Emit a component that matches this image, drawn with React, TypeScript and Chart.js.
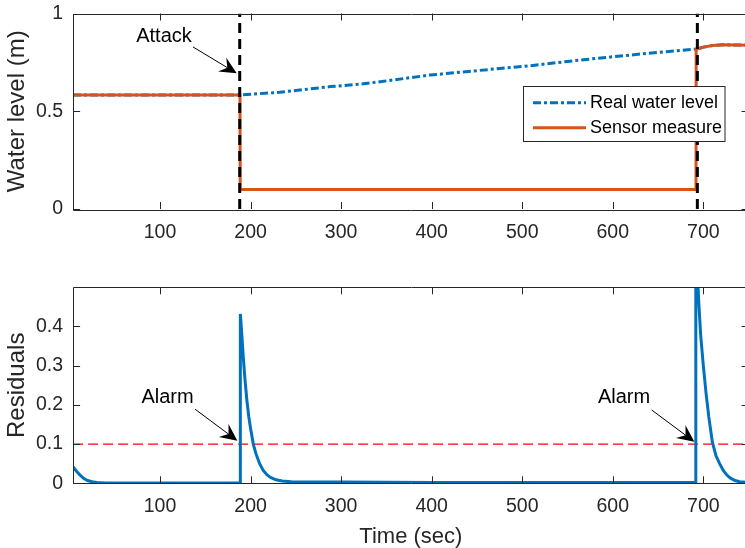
import React, { useEffect, useRef } from "react";
import { Chart, registerables } from "chart.js";
Chart.register(...registerables);

// ---------- data ----------
const xMin = 4;
const xMax = 750;
const xTicks = [100, 200, 300, 400, 500, 600, 700];
const levelTicks = [0, 0.5, 1];
const residualTicks = [0, 0.1, 0.2, 0.3, 0.4];

const realTime = [4, 100, 188, 232, 288, 321, 343, 398, 453, 509, 564, 638, 693, 700, 710, 722, 735, 750];
const realLevel = [0.583, 0.583, 0.583, 0.597, 0.626, 0.639, 0.651, 0.685, 0.709, 0.733, 0.762, 0.796, 0.818, 0.828, 0.836, 0.84, 0.839, 0.838];

const sensorTime = [4, 100, 188.3, 188.6, 300, 500, 691.9, 692.1, 700, 710, 722, 735, 750];
const sensorLevel = [0.583, 0.583, 0.583, 0.1, 0.1, 0.1, 0.1, 0.817, 0.828, 0.836, 0.84, 0.839, 0.838];

const attackTimes = [188, 693.4];

const residualTime = [
  4, 8, 12, 16, 20, 25, 30, 40, 60, 100, 150, 188.5,
  188.7, 190, 192, 194, 196, 198, 200, 203, 206, 210, 214, 218, 222, 228, 235, 245, 260, 300, 400, 500, 600, 691.6,
  691.7, 693, 695, 697, 700, 703, 706, 710, 714, 718, 722, 726, 730, 735, 740, 750,
];
const residualValue = [
  0.042, 0.03, 0.02, 0.012, 0.007, 0.004, 0.002, 0.001, 0.0005, 0.0005, 0.0005, 0.0005,
  0.432, 0.39, 0.32, 0.26, 0.21, 0.17, 0.14, 0.1, 0.075, 0.05, 0.033, 0.022, 0.015, 0.009, 0.006, 0.004, 0.003, 0.003, 0.002, 0.002, 0.002, 0.002,
  0.62, 0.56, 0.46, 0.38, 0.3, 0.23, 0.17, 0.105, 0.07, 0.05, 0.033, 0.021, 0.013, 0.007, 0.004, 0.002,
];
const threshold = 0.1;

// annotations: label position and arrow (data coordinates)
const topNotes = [{ text: "Attack", tx: 104.4, ty: 0.854, x1: 136.4, y1: 0.829, x2: 184.7, y2: 0.694 }];
const bottomNotes = [
  { text: "Alarm", tx: 108.3, ty: 0.2036, x1: 138.7, y1: 0.189, x2: 185.4, y2: 0.1087 },
  { text: "Alarm", tx: 612.4, ty: 0.204, x1: 643, y1: 0.187, x2: 690.1, y2: 0.106 },
];
const legendLabels = ["Real water level", "Sensor measure"];

// ---------- styles ----------
const FONT = "'Liberation Sans', Arial, Helvetica, sans-serif";
const AX = "#262626";
const BLUE = "#0072BD";
const ORANGE = "#D95319";
const pts = (xs: number[], ys: number[]) => xs.map((x, i) => ({ x, y: ys[i] }));

const boxTicks = {
  id: "boxTicks",
  afterDraw(chart: any, _a: any, opts: any) {
    const { ctx, chartArea } = chart;
    const { left, right, top, bottom } = chartArea;
    const xs = chart.scales.x;
    const ys = chart.scales.y;
    const L = 7;
    ctx.save();
    ctx.strokeStyle = AX;
    ctx.lineWidth = 1;
    ctx.setLineDash([]);
    ctx.beginPath();
    ctx.rect(Math.round(left) + 0.5, Math.round(top) + 0.5, Math.round(right - left), Math.round(bottom - top));
    for (const t of xs.ticks) {
      const px = Math.round(xs.getPixelForValue(t.value)) + 0.5;
      ctx.moveTo(px, bottom);
      ctx.lineTo(px, bottom - L);
      ctx.moveTo(px, top);
      ctx.lineTo(px, top + L);
    }
    for (const t of ys.ticks) {
      const py = Math.round(ys.getPixelForValue(t.value)) + 0.5;
      ctx.moveTo(left, py);
      ctx.lineTo(left + L, py);
      ctx.moveTo(right, py);
      ctx.lineTo(right - L, py);
    }
    ctx.stroke();

    // annotations
    const notes = opts.notes || [];
    for (const n of notes) {
      ctx.fillStyle = "#000";
      ctx.font = `20px ${FONT}`;
      ctx.textAlign = "center";
      ctx.textBaseline = "alphabetic";
      ctx.fillText(n.text, xs.getPixelForValue(n.tx), ys.getPixelForValue(n.ty));
      const ax = xs.getPixelForValue(n.x1), ay = ys.getPixelForValue(n.y1);
      const bx = xs.getPixelForValue(n.x2), by = ys.getPixelForValue(n.y2);
      const dx = bx - ax, dy = by - ay;
      const len = Math.hypot(dx, dy);
      const ux = dx / len, uy = dy / len;
      const nx = -uy, ny = ux;
      const HL = 17, HW = 8, NOTCH = 11;
      ctx.strokeStyle = "#000";
      ctx.lineWidth = 1;
      ctx.beginPath();
      ctx.moveTo(ax, ay);
      ctx.lineTo(bx - ux * NOTCH, by - uy * NOTCH);
      ctx.stroke();
      ctx.beginPath();
      ctx.moveTo(bx, by);
      ctx.lineTo(bx - ux * HL + nx * HW, by - uy * HL + ny * HW);
      ctx.lineTo(bx - ux * NOTCH, by - uy * NOTCH);
      ctx.lineTo(bx - ux * HL - nx * HW, by - uy * HL - ny * HW);
      ctx.closePath();
      ctx.fillStyle = "#000";
      ctx.fill();
    }

    // legend
    if (opts.legend) {
      const lx = 523.5, ly = 86.5, lw = 201.5, lh = 55;
      ctx.fillStyle = "#fff";
      ctx.fillRect(lx, ly, lw, lh);
      ctx.strokeStyle = AX;
      ctx.lineWidth = 1;
      ctx.setLineDash([]);
      ctx.strokeRect(lx, ly, lw, lh);
      const rows = [
        { y: 102.7, color: BLUE, dash: [8, 3, 3, 3], label: legendLabels[0] },
        { y: 127.7, color: ORANGE, dash: [], label: legendLabels[1] },
      ];
      for (const r of rows) {
        ctx.strokeStyle = r.color;
        ctx.lineWidth = 3;
        ctx.setLineDash(r.dash);
        ctx.beginPath();
        ctx.moveTo(533, r.y);
        ctx.lineTo(586, r.y);
        ctx.stroke();
        ctx.setLineDash([]);
        ctx.fillStyle = "#000";
        ctx.font = `18px ${FONT}`;
        ctx.textAlign = "left";
        ctx.textBaseline = "middle";
        ctx.fillText(r.label, 590, r.y);
      }
    }
    ctx.restore();
  },
};

const noPad = (s: any) => {
  s.paddingTop = 0;
  s.paddingBottom = 0;
  s.paddingLeft = 0;
  s.paddingRight = 0;
};

function xScale(height: number, title?: string) {
  return {
    type: "linear",
    min: xMin,
    max: xMax,
    afterBuildTicks: (s: any) => {
      s.ticks = xTicks.map((v) => ({ value: v }));
    },
    afterFit: (s: any) => {
      s.height = height;
      noPad(s);
    },
    grid: { display: false, drawTicks: false },
    border: { display: false },
    ticks: { font: { family: FONT, size: 19.5 }, color: AX, padding: 12, maxRotation: 0, autoSkip: false },
    title: title
      ? { display: true, text: title, font: { family: FONT, size: 22 }, color: AX, padding: { top: 0, bottom: 0 } }
      : { display: false },
  };
}

function yScale(min: number, max: number, ticks: number[], title: string) {
  return {
    type: "linear",
    min,
    max,
    afterBuildTicks: (s: any) => {
      s.ticks = ticks.map((v) => ({ value: v }));
    },
    afterFit: (s: any) => {
      s.width = 73.1;
      noPad(s);
    },
    grid: { display: false, drawTicks: false },
    border: { display: false },
    ticks: {
      font: { family: FONT, size: 19.5 },
      color: AX,
      padding: 10,
      autoSkip: false,
      callback: (v: any) => String(v),
    },
    title: { display: true, text: title, font: { family: FONT, size: 24 }, color: AX, padding: { top: 3, bottom: 0 } },
  };
}

export default function App() {
  const topRef = useRef<HTMLCanvasElement>(null);
  const botRef = useRef<HTMLCanvasElement>(null);

  useEffect(() => {
    const line = (data: any[], color: string, width: number, dash: number[] = []) => ({
      data,
      borderColor: color,
      backgroundColor: color,
      borderWidth: width,
      borderDash: dash,
      pointRadius: 0,
      showLine: true,
      tension: 0,
      fill: false,
    });

    const top = new Chart(topRef.current as HTMLCanvasElement, {
      type: "scatter",
      data: {
        datasets: [
          ...attackTimes.map((t) => line([{ x: t, y: 0 }, { x: t, y: 1 }], "#000", 3, [10, 6])),
          line(pts(sensorTime, sensorLevel), ORANGE, 3),
          line(pts(realTime, realLevel), BLUE, 3, [8, 3, 3, 3]),
        ],
      },
      options: {
        animation: false,
        responsive: false,
        events: [],
        layout: { padding: { top: 13.5, right: 760 - 748.6, left: 0, bottom: 0 } },
        scales: {
          x: xScale(61) as any,
          y: yScale(0, 1, levelTicks, "Water level (m)") as any,
        },
        plugins: {
          legend: { display: false },
          tooltip: { enabled: false },
          boxTicks: { notes: topNotes, legend: true },
        } as any,
      },
      plugins: [boxTicks],
    });

    const bot = new Chart(botRef.current as HTMLCanvasElement, {
      type: "scatter",
      data: {
        datasets: [
          line(pts(residualTime, residualValue), BLUE, 3),
          line([{ x: xMin, y: threshold }, { x: xMax, y: threshold }], "#FF0000", 1.4, [10, 5]),
        ],
      },
      options: {
        animation: false,
        responsive: false,
        events: [],
        layout: { padding: { top: 17.3, right: 760 - 748.6, left: 0, bottom: 0 } },
        scales: {
          x: xScale(280 - 213.3, "Time (sec)") as any,
          y: yScale(0, 0.5, residualTicks, "Residuals") as any,
        },
        plugins: {
          legend: { display: false },
          tooltip: { enabled: false },
          boxTicks: { notes: bottomNotes, legend: false },
        } as any,
      },
      plugins: [boxTicks],
    });

    return () => {
      top.destroy();
      bot.destroy();
    };
  }, []);

  return (
    <div
      style={{
        position: "absolute",
        left: 0,
        top: 0,
        width: 745,
        height: 548,
        overflow: "hidden",
        background: "#fff",
      }}
    >
      <canvas ref={topRef} width={760} height={270} style={{ position: "absolute", left: 0, top: 0 }} />
      <canvas ref={botRef} width={760} height={280} style={{ position: "absolute", left: 0, top: 270 }} />
    </div>
  );
}
